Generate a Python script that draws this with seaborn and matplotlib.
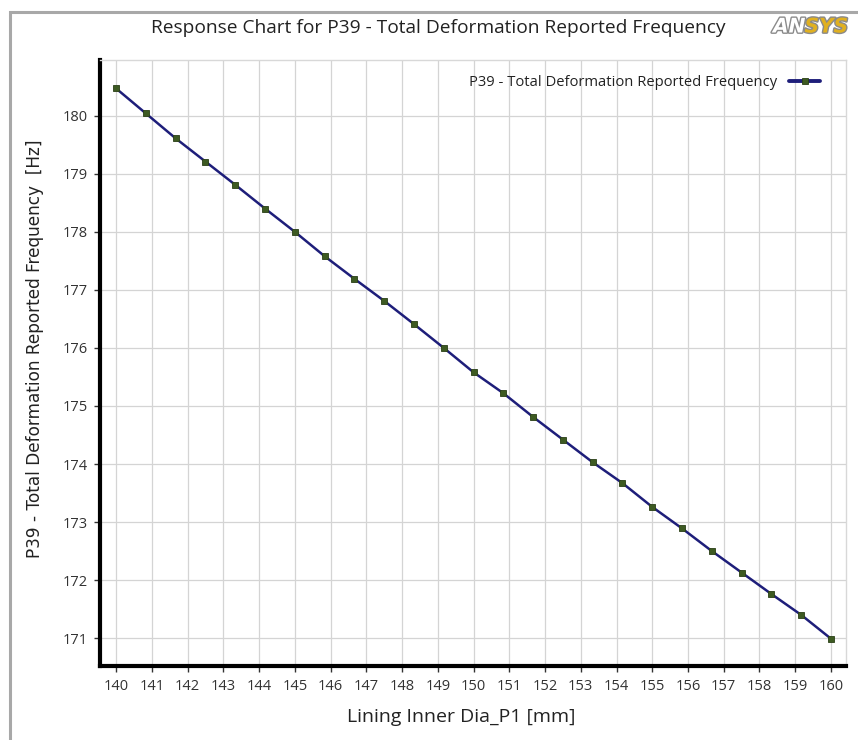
import numpy as np
import pandas as pd
import seaborn as sns
import matplotlib.pyplot as plt
import matplotlib.patheffects as pe
from matplotlib.patches import Rectangle

# Lining Inner Dia_P1 [mm], 25 design points
dia = [140.0, 140.833, 141.667, 142.5, 143.333, 144.167, 145.0, 145.833, 146.667,
       147.5, 148.333, 149.167, 150.0, 150.833, 151.667, 152.5, 153.333, 154.167,
       155.0, 155.833, 156.667, 157.5, 158.333, 159.167, 160.0]
freq = [180.47, 180.04, 179.61, 179.21, 178.81, 178.40, 178.00, 177.58, 177.19,
        176.81, 176.41, 176.00, 175.58, 175.22, 174.81, 174.42, 174.03, 173.67,
        173.26, 172.89, 172.50, 172.13, 171.76, 171.40, 170.99]
xticks = list(range(140, 161))
yticks = list(range(171, 181))
series = "P39 - Total Deformation Reported Frequency"

sns.set_style("whitegrid")
plt.rcParams['font.family'] = ['Open Sans', 'DejaVu Sans']

data = pd.DataFrame({'dia': dia, 'freq': freq, 'name': series})

W, H = 858, 740
fig = plt.figure(figsize=(W / 100, H / 100), dpi=100)
ax = fig.add_axes([100 / W, 1 - 666 / H, 746 / W, 606 / H])

sns.lineplot(data=data, x='dia', y='freq', hue='name', palette=['#1e1e7a'],
             marker='s', markersize=5, markerfacecolor='#3d5a22',
             markeredgecolor='#2a3f16', markeredgewidth=0.6, linewidth=1.8, ax=ax)

ax.set_xlim(139.55, 160.42)
ax.set_ylim(170.52, 180.96)
ax.set_xticks(xticks)
ax.set_yticks(yticks)
ax.tick_params(axis='both', labelsize=10.5, colors='#333333', length=4, width=1,
               direction='out', left=True, bottom=True, pad=5)
ax.grid(True, color='#d4d4d4', linewidth=0.9)

for side in ['top', 'right']:
    ax.spines[side].set_color('#d8d8d8')
    ax.spines[side].set_linewidth(1)
for side in ['left', 'bottom']:
    ax.spines[side].set_color('black')
    ax.spines[side].set_linewidth(3)

ax.set_xlabel("Lining Inner Dia_P1 [mm]", fontsize=14, color='#222222', va='center')
ax.xaxis.set_label_coords((461 - 100) / 746, -(717 - 666) / 606)
ax.set_ylabel("P39 - Total Deformation Reported Frequency  [Hz]", fontsize=12.2,
              color='#222222', va='center', family=['DejaVu Sans'])
ax.yaxis.set_label_coords((35 - 100) / 746, (666 - 349) / 606)

leg = ax.legend(loc='upper right', frameon=False, markerfirst=False, fontsize=10.6,
                handlelength=2.1, borderaxespad=0.6, bbox_to_anchor=(0.985, 1.0))
for t in leg.get_texts():
    t.set_color('#222222')
for h in leg.legend_handles:
    h.set_linewidth(2.8)

fig.text(438 / W, 1 - 28 / H, "Response Chart for P39 - Total Deformation Reported Frequency",
         ha='center', va='center', fontsize=13.8, color='#222222')

# outer frame of the chart window
fig.patches.append(Rectangle((10 / W, -0.05), 1.0, 1 - 12 / H + 0.05,
                             transform=fig.transFigure, fill=False,
                             edgecolor='#a8a8a8', linewidth=2.2))

# ANSYS logo
t1 = fig.text(773 / W, 1 - 27 / H, "AN", ha='left', va='center', fontsize=14.5,
              fontweight='bold', style='italic', color='white', family='DejaVu Sans')
t1.set_path_effects([pe.withStroke(linewidth=2, foreground='#8a8a8a')])
fig.canvas.draw()
bb = t1.get_window_extent()
t2 = fig.text(bb.x1 / W - 1 / W, 1 - 27 / H, "SYS", ha='left', va='center', fontsize=14.5,
              fontweight='bold', style='italic', color='#e0b020', family='DejaVu Sans')
t2.set_path_effects([pe.withStroke(linewidth=2, foreground='#8a8a8a')])

fig.savefig("out.png", dpi=100, facecolor='white')
